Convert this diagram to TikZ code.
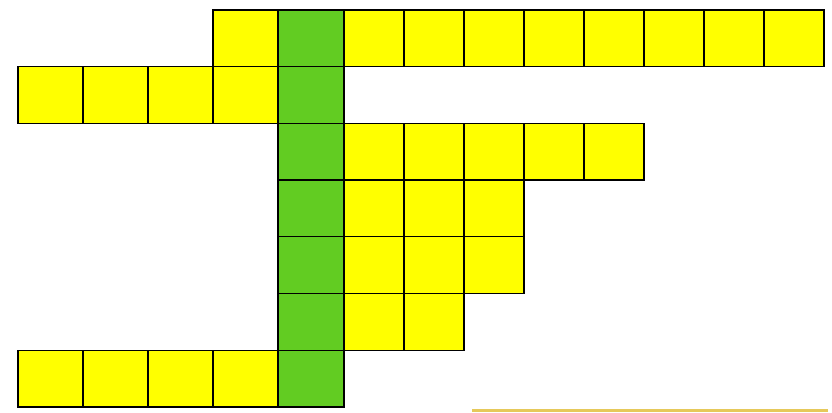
\documentclass[tikz,border=0pt]{standalone}
\usepackage{xcolor}
\usepackage{tikz}
\definecolor{cellyellow}{HTML}{FFFF00}
\definecolor{keygreen}{HTML}{62CC22}
\definecolor{stripgold}{HTML}{E6C95A}

\begin{document}
\begin{tikzpicture}[x=1pt, y=-1pt,
    cell/.style={draw=black, fill=cellyellow, line width=1.3pt},
    keycell/.style={draw=black, fill=keygreen, line width=1.3pt},
    keyframe/.style={draw=black, line width=2.6pt},
]
\useasboundingbox (0,0) rectangle (832,412);

% cells left of the key column
\foreach \r/\c in {0/3, 1/0, 1/1, 1/2, 1/3, 6/0, 6/1, 6/2, 6/3}
  \draw[cell] (18+65*\c, 10+56.7*\r) rectangle ++(65, 56.7);

% cells right of the key column
\foreach \r/\n in {0/8, 2/5, 3/3, 4/3, 5/2}
  \foreach \c in {1,...,\n}
    \draw[cell] (284+60*\c, 10+56.7*\r) rectangle ++(60, 56.7);

% key column
\foreach \r in {0,...,6}
  \draw[keycell] (278, 10+56.7*\r) rectangle ++(66, 56.7);
\draw[keyframe] (278,10) rectangle (344,407);

% strip at the bottom edge
\fill[stripgold] (472,409) rectangle (828,412);
\end{tikzpicture}
\end{document}
